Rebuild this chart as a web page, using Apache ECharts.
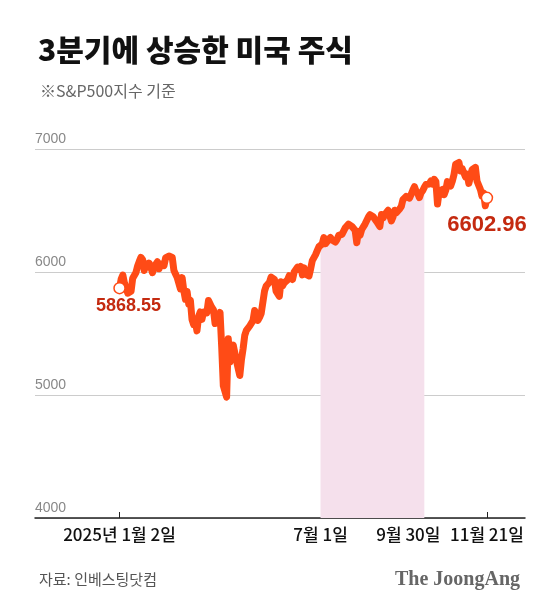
<!DOCTYPE html>
<html><head><meta charset="utf-8">
<script src="https://cdn.jsdelivr.net/npm/echarts@6/dist/echarts.min.js"></script>
<style>html,body{margin:0;padding:0;background:#fff}#c{width:560px;height:609px}</style>
</head><body><div id="c"></div>
<script>
// S&P 500 daily closes, 2025-01-02 .. 2025-11-21 (trading days)
const jan = [5868.55,5942.47,5975.38,5909.03,5918.25,5827.04,5836.22,5842.91,5949.91,5937.34,5996.66,6049.24,6086.37,6118.71,6101.24,6012.28,6067.70,6039.31,6071.17,6040.53];
const feb = [5994.57,6037.88,6061.48,6083.57,6025.99,6066.44,6068.50,6051.97,6115.07,6114.63,6129.58,6144.15,6117.52,6013.13,5983.25,5955.25,5956.06,5861.57,5954.50];
const mar = [5849.72,5778.15,5842.63,5738.52,5770.20,5614.56,5572.07,5599.30,5521.52,5638.94,5675.12,5614.66,5675.29,5662.89,5667.56,5767.57,5776.65,5712.20,5693.31,5580.94,5611.85];
const apr = [5633.07,5670.97,5396.52,5074.08,5062.25,4982.77,5456.90,5268.05,5363.36,5405.97,5396.63,5275.70,5282.70,5158.20,5287.76,5375.86,5484.77,5525.21,5528.75,5560.83,5569.06];
const may = [5604.14,5686.67,5650.38,5606.91,5631.28,5663.94,5659.91,5844.19,5886.55,5892.58,5916.93,5958.38,5963.60,5940.46,5844.61,5842.01,5802.82,5921.54,5888.55,5912.17,5911.69];
const jun = [5935.94,5970.37,5970.81,5939.30,6000.36,6005.88,6038.81,6022.24,6045.26,5976.97,6033.11,5982.72,5980.87,5967.84,6025.17,6092.18,6092.16,6141.02,6173.07,6204.95];
const jul = [6198.01,6227.42,6279.35,6229.98,6225.52,6263.26,6280.46,6259.75,6268.56,6243.76,6263.70,6297.36,6296.79,6305.60,6309.62,6358.91,6363.35,6388.64,6389.77,6370.86,6362.90,6339.39];
const aug = [6238.01,6329.94,6299.19,6345.06,6340.00,6389.45,6373.45,6445.76,6466.58,6468.54,6449.80,6449.15,6411.37,6395.78,6370.17,6466.91,6439.32,6465.94,6481.40,6501.86,6460.26];
const sep = [6415.54,6448.26,6502.08,6481.50,6495.15,6512.61,6532.04,6587.47,6584.29,6615.28,6606.76,6600.35,6631.96,6664.36,6693.75,6656.92,6637.97,6604.72,6643.70,6661.21,6688.46];
const oct = [6711.20,6715.35,6715.79,6740.28,6714.59,6753.72,6735.11,6552.51,6654.72,6644.31,6671.06,6629.07,6664.01,6735.13,6735.35,6699.40,6738.44,6791.69,6875.16,6890.89,6890.59,6822.34,6840.20];
const nov = [6851.97,6771.55,6796.29,6720.32,6728.80,6832.43,6846.61,6850.92,6737.49,6734.11,6672.41,6617.32,6642.16,6538.76,6602.96];

const tickIdx = [0, 122, 185, 223];
const tickText = ['2025년 1월 2일', '7월 1일', '9월 30일', '11월 21일'];
const yTicks = [4000, 5000, 6000, 7000];
const hlStart = 122, hlEnd = 185;   // 7월 1일 ~ 9월 30일

const values = [].concat(jan, feb, mar, apr, may, jun, jul, aug, sep, oct, nov);
const lineData = values.map((v, i) => [i, v]);
const hlData = lineData.slice(hlStart, hlEnd + 1);
const last = values.length - 1;

const chart = echarts.init(document.getElementById('c'), null, {renderer: 'canvas'});
const RED = '#FF4B16';
const LBL = '#C42A10';
chart.setOption({
  animation: false,
  backgroundColor: '#fff',
  title: [
    {text: '3분기에 상승한 미국 주식', left: 33, top: 30,
     textStyle: {fontFamily: 'Noto Sans CJK KR', fontSize: 30, fontWeight: 900, color: '#111'}},
    {text: '※S&P500지수 기준', left: 35, top: 78,
     textStyle: {fontFamily: 'Noto Sans CJK KR', fontSize: 16, fontWeight: 400, color: '#666'}},
    {text: '자료: 인베스팅닷컴', left: 34, top: 567,
     textStyle: {fontFamily: 'Noto Sans CJK KR', fontSize: 15, fontWeight: 400, color: '#555'}},
    {text: 'The JoongAng', right: 35, top: 565,
     textStyle: {fontFamily: 'Liberation Serif', fontSize: 20, fontWeight: 'bold', color: '#666'}}
  ],
  grid: {left: 35, right: 35, top: 149, bottom: 91},
  xAxis: {
    type: 'value', min: -51.3, max: 246.1,
    splitLine: {show: false},
    axisLine: {show: true, lineStyle: {color: '#222', width: 1.5}},
    axisTick: {show: true, inside: true, length: 6, customValues: [tickIdx[0], tickIdx[3]], lineStyle: {color: '#222', width: 1}},
    axisLabel: {
      customValues: tickIdx, margin: 8,
      fontFamily: 'Noto Sans CJK KR', fontSize: 17, fontWeight: 500, color: '#111',
      formatter: v => {
        const k = tickIdx.indexOf(Math.round(v));
        if (k < 0) return '';
        return k === 2 ? '{s|' + tickText[k] + '}' : tickText[k];
      },
      rich: {s: {fontFamily: 'Noto Sans CJK KR', fontSize: 17, fontWeight: 500, color: '#111', padding: [0, 32, 0, 0]}}
    }
  },
  yAxis: {
    type: 'value', min: yTicks[0], max: yTicks[yTicks.length - 1], interval: 1000,
    axisLine: {show: false}, axisTick: {show: false},
    splitLine: {show: true, lineStyle: {color: '#ccc', width: 1}},
    axisLabel: {inside: true, verticalAlign: 'bottom', margin: 0, padding: [0, 0, 3, 0],
      fontFamily: 'Liberation Sans', fontSize: 14, color: '#888', formatter: v => String(v)}
  },
  series: [
    {type: 'line', data: hlData, showSymbol: false, silent: true, z: 1,
     lineStyle: {width: 0}, areaStyle: {color: '#F5E0EC', opacity: 1}},
    {type: 'line', data: lineData, showSymbol: false, z: 3,
     lineStyle: {color: RED, width: 7, cap: 'round', join: 'round'}},
    {type: 'scatter', z: 5, symbol: 'circle', symbolSize: 11,
     itemStyle: {color: '#fff', borderColor: RED, borderWidth: 1.5, opacity: 1},
     emphasis: {disabled: true},
     data: [
       {value: [0, values[0]],
        label: {show: true, position: 'inside', offset: [9, 18], formatter: values[0].toFixed(2),
          fontFamily: 'Liberation Sans', fontWeight: 'bold', fontSize: 18, color: LBL}},
       {value: [last, values[last]],
        label: {show: true, position: 'inside', offset: [0, 27], formatter: values[last].toFixed(2),
          fontFamily: 'Liberation Sans', fontWeight: 'bold', fontSize: 22, color: LBL}}
     ]}
  ]
});
</script></body></html>
